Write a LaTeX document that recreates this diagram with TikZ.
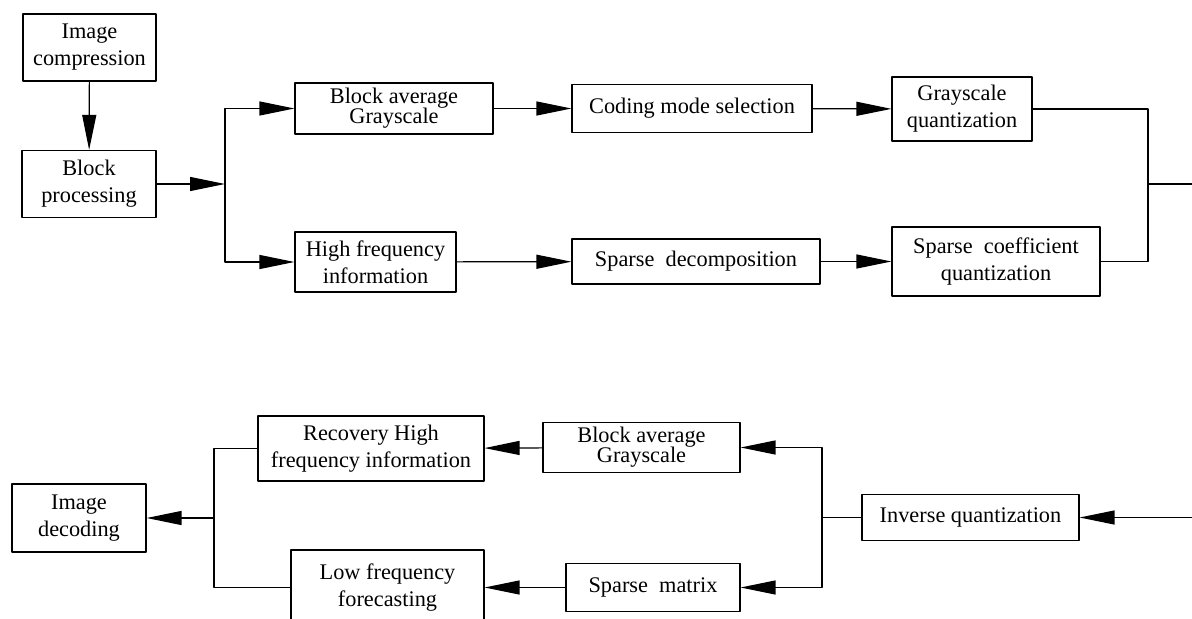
\documentclass[tikz,border=0pt]{standalone}
\usepackage{fontspec}
\setmainfont{Liberation Serif}
\usetikzlibrary{arrows.meta}

\begin{document}
\begin{tikzpicture}[x=0.02cm,y=-0.02cm,line cap=round,line join=round,
    blockbox/.style={draw,line width=0.7pt,inner sep=0pt,align=center,
        font=\fontsize{12.7}{15.3}\selectfont},
    flow/.style={line width=0.7pt,-{Triangle[length=0.7cm,width=0.28cm]}},
    link/.style={line width=0.7pt}]
        \useasboundingbox (0,0) rectangle (1192,618);

        % Compresión
        \node[blockbox,minimum width=2.66cm,minimum height=1.34cm] (comp) at (89.5,47.5) {Image\\compression};
        \node[blockbox,minimum width=2.68cm,minimum height=1.34cm] (blk) at (89,184) {Block\\processing};
        \node[blockbox,minimum width=3.96cm,minimum height=1.02cm] (avgA) at (394,108.5) {Block average\\[-4pt]Grayscale};
        \node[blockbox,minimum width=4.80cm,minimum height=0.96cm] (mode) at (692,108.5) {Coding mode selection};
        \node[blockbox,minimum width=2.80cm,minimum height=1.28cm] (gq) at (962,109) {Grayscale\\quantization};
        \node[blockbox,minimum width=3.22cm,minimum height=1.20cm] (hfi) at (375.5,262) {High frequency\\information};
        \node[blockbox,minimum width=4.96cm,minimum height=0.90cm] (sdec) at (696,261.5) {Sparse\ \ decomposition};
        \node[blockbox,minimum width=4.16cm,minimum height=1.38cm] (scq) at (996,261.5) {Sparse\ \ coefficient\\quantization};

        \coordinate (splitA) at (225,184);
        \coordinate (mergeA) at (1148,184);
        \coordinate (outA) at (1192,184);

        \draw[flow] (comp) -- (blk);
        \draw[flow] (blk.east) -- (splitA);
        \draw[flow] (splitA) |- (avgA.west);
        \draw[flow] (splitA) |- (hfi.west);
        \draw[flow] (avgA) -- (mode);
        \draw[flow] (mode) -- (gq);
        \draw[flow] (hfi) -- (sdec);
        \draw[flow] (sdec) -- (scq);
        \draw[link] (gq.east) -| (mergeA);
        \draw[link] (scq.east) -| (mergeA);
        \draw[link] (mergeA) -- (outA);

        % Decodificación
        \node[blockbox,minimum width=2.68cm,minimum height=1.36cm] (dec) at (79,518) {Image\\decoding};
        \node[blockbox,minimum width=4.52cm,minimum height=1.30cm] (rec) at (371,448.5) {Recovery High\\frequency information};
        \node[blockbox,minimum width=3.86cm,minimum height=1.50cm] (lff) at (387.5,587.5) {Low frequency\\forecasting};
        \node[blockbox,minimum width=3.94cm,minimum height=1.00cm] (avgB) at (641.5,447.5) {Block average\\[-4pt]Grayscale};
        \node[blockbox,minimum width=3.48cm,minimum height=0.96cm] (spm) at (653,587.5) {Sparse\ \ matrix};
        \node[blockbox,minimum width=4.34cm,minimum height=0.92cm] (inv) at (970.5,517.5) {Inverse quantization};

        \coordinate (inB) at (1192,517.5);
        \coordinate (splitB) at (822,517.5);
        \coordinate (joinB) at (214,518);

        \draw[flow] (inB) -- (inv.east);
        \draw[link] (inv.west) -- (splitB);
        \draw[flow] (splitB) |- (avgB.east);
        \draw[flow] (splitB) |- (spm.east);
        \draw[flow] (avgB) -- (rec);
        \draw[flow] (spm) -- (lff);
        \draw[link] (rec.west) -| (joinB);
        \draw[link] (lff.west) -| (joinB);
        \draw[flow] (joinB) -- (dec.east);
    \end{tikzpicture}
\end{document}
